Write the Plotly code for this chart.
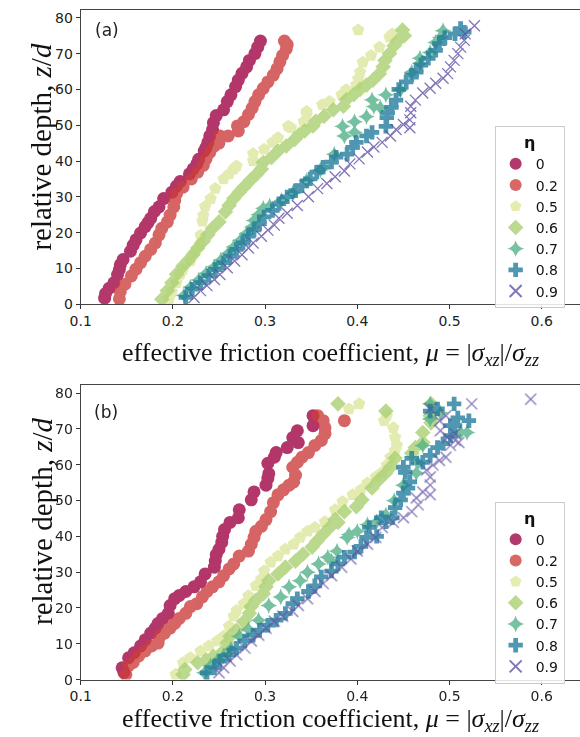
import plotly.graph_objects as go

# ---------------- data ----------------
ETA_LABELS = ["0", "0.2", "0.5", "0.6", "0.7", "0.8", "0.9"]
X_TICKS = [0.1, 0.2, 0.3, 0.4, 0.5, 0.6]
Y_TICKS = [0, 10, 20, 30, 40, 50, 60, 70, 80]

# panel (a)
MU_A_00 = [.126, .127, .131, .136, .140, .142, .143, .146, .154, .157, .160, .165, .170, .173, .176, .180, .185, .190, .199, .204, .208, .218, .222, .226, .228, .234, .236, .238, .240, .243, .244, .247, .255, .259, .263, .268, .271, .275, .280, .283, .289, .292, .295]
Z_A_00 = [1.7, 3.0, 4.5, 6.0, 8.3, 9.7, 11.0, 12.5, 14.8, 16.5, 18.0, 19.9, 21.7, 22.8, 24.0, 25.9, 27.2, 29.5, 31.3, 33.0, 34.3, 36.4, 37.8, 39.2, 40.5, 42.8, 43.8, 45.2, 47.0, 48.8, 50.7, 52.7, 54.3, 56.6, 58.5, 60.8, 62.6, 64.5, 66.3, 68.1, 70.0, 71.8, 73.5]

MU_A_02 = [.142, .143, .148, .155, .160, .165, .170, .176, .181, .185, .188, .194, .197, .201, .202, .204, .211, .220, .227, .233, .236, .240, .245, .250, .251, .260, .271, .270, .277, .282, .286, .289, .293, .298, .303, .309, .313, .316, .319, .323, .324, .321]
Z_A_02 = [1.5, 3.5, 5.6, 7.9, 9.8, 11.6, 13.4, 15.3, 17.1, 19.4, 21.2, 23.0, 24.9, 27.2, 29.0, 30.9, 32.7, 35.0, 36.9, 38.8, 40.6, 42.4, 44.2, 45.0, 47.0, 47.0, 48.4, 49.8, 51.0, 53.0, 54.8, 56.6, 58.5, 60.3, 62.1, 64.0, 65.8, 67.7, 69.5, 71.3, 72.5, 73.5]

MU_A_05 = [.196, .199, .204, .208, .211, .219, .223, .229, .230, .232, .233, .235, .241, .246, .255, .261, .266, .269, .287, .287, .299, .308, .314, .325, .328, .342, .345, .345, .362, .370, .383, .388, .399, .401, .403, .406, .415, .424, .435, .438, .401]
Z_A_05 = [1.5, 3.5, 6.0, 8.4, 9.7, 12.1, 14.3, 16.6, 19.3, 23.2, 24.8, 27.3, 29.5, 32.3, 35.0, 36.4, 37.8, 38.6, 40.0, 42.0, 43.3, 45.2, 46.5, 49.7, 49.3, 51.0, 53.0, 53.8, 55.7, 56.6, 58.5, 59.9, 61.2, 63.0, 64.8, 67.6, 69.5, 71.8, 74.6, 75.5, 76.6]

MU_A_06 = [.188, .194, .199, .204, .211, .216, .222, .227, .233, .238, .243, .250, .257, .261, .266, .272, .277, .284, .291, .296, .298, .307, .314, .323, .332, .337, .343, .352, .355, .364, .374, .385, .388, .396, .403, .410, .417, .424, .428, .430, .435, .440, .444, .451, .449]
Z_A_06 = [1.4, 3.8, 6.0, 8.4, 10.7, 12.1, 13.9, 15.7, 17.6, 19.4, 21.2, 23.0, 25.8, 27.6, 29.5, 31.3, 32.7, 34.6, 36.4, 37.8, 39.6, 41.0, 42.8, 44.2, 46.0, 47.4, 48.4, 49.8, 51.1, 52.5, 54.3, 55.3, 57.1, 58.5, 60.0, 61.2, 62.6, 64.4, 66.3, 68.1, 70.0, 72.2, 73.6, 75.0, 76.6]

MU_A_07 = [.212, .219, .228, .236, .245, .252, .260, .266, .273, .280, .286, .288, .293, .298, .305, .318, .330, .345, .360, .375, .386, .397, .384, .397, .410, .425, .418, .416, .431, .447, .459, .468, .468, .479, .485, .490, .493]
Z_A_07 = [2.5, 4.8, 6.8, 8.6, 10.5, 12.3, 14.2, 16.0, 17.8, 19.8, 21.6, 23.4, 25.0, 26.8, 27.5, 29.0, 31.0, 34.5, 37.5, 41.9, 47.0, 48.0, 49.7, 51.0, 52.4, 54.9, 55.2, 57.1, 58.5, 59.9, 64.8, 67.3, 68.7, 70.3, 73.1, 74.5, 76.4]

MU_A_08 = [.214, .221, .230, .239, .246, .255, .262, .269, .276, .282, .288, .294, .299, .308, .315, .324, .333, .340, .349, .356, .363, .372, .377, .389, .395, .399, .410, .416, .431, .432, .433, .437, .442, .445, .453, .459, .464, .469, .477, .485, .489, .495, .506, .512, .516]
Z_A_08 = [1.9, 4.2, 6.0, 8.0, 9.7, 11.6, 13.4, 15.3, 17.1, 19.0, 20.8, 22.5, 24.4, 26.2, 28.1, 30.0, 31.7, 33.1, 35.0, 36.9, 38.3, 39.7, 41.1, 41.9, 43.8, 45.2, 47.0, 48.0, 49.7, 52.1, 53.5, 55.0, 57.0, 60.0, 62.1, 64.0, 64.8, 66.8, 68.7, 70.9, 72.8, 74.5, 75.5, 77.0, 76.0]

MU_A_09 = [.223, .230, .237, .245, .251, .259, .267, .275, .282, .287, .296, .303, .310, .315, .324, .335, .347, .357, .367, .376, .386, .392, .402, .411, .418, .427, .436, .442, .450, .457, .457, .458, .458, .463, .471, .479, .485, .493, .498, .501, .505, .509, .512, .516, .517, .527]
Z_A_09 = [1.9, 3.8, 5.2, 6.9, 8.3, 10.2, 12.1, 13.8, 15.7, 17.1, 19.0, 20.7, 22.1, 24.0, 25.4, 27.6, 30.0, 32.3, 33.7, 35.6, 37.2, 39.2, 40.6, 42.5, 43.9, 45.2, 47.0, 48.8, 50.2, 49.3, 51.5, 53.5, 55.3, 57.0, 59.0, 60.3, 61.7, 63.1, 64.4, 66.3, 68.1, 70.0, 71.8, 73.7, 75.5, 77.8]

# panel (b)
MU_B_00 = [.145, .147, .152, .158, .165, .170, .176, .181, .184, .189, .195, .197, .202, .207, .214, .223, .230, .235, .245, .246, .247, .250, .253, .254, .256, .262, .271, .272, .285, .288, .301, .303, .304, .303, .310, .312, .324, .336, .330, .335, .352, .352]
Z_B_00 = [3.3, 2.0, 6.1, 7.5, 9.4, 11.1, 13.0, 14.4, 15.7, 17.1, 18.5, 20.7, 22.6, 23.5, 24.6, 25.9, 27.3, 29.5, 31.4, 33.1, 34.9, 36.4, 38.3, 40.0, 41.9, 43.9, 45.2, 47.4, 50.2, 52.4, 54.3, 56.2, 57.5, 60.4, 62.1, 63.4, 64.8, 66.2, 67.6, 69.5, 70.9, 73.7]

MU_B_02 = [.149, .152, .157, .163, .170, .177, .184, .186, .191, .197, .202, .207, .214, .219, .226, .232, .237, .243, .250, .255, .261, .266, .272, .282, .285, .288, .290, .296, .301, .306, .309, .314, .320, .326, .331, .333, .330, .335, .340, .347, .354, .361, .365, .365, .363, .357, .386]
Z_B_02 = [1.4, 3.9, 4.8, 6.6, 8.0, 9.4, 10.2, 12.1, 13.0, 14.4, 15.7, 17.1, 18.5, 20.4, 21.2, 23.1, 24.6, 25.9, 27.3, 29.0, 30.9, 32.3, 34.5, 35.9, 37.8, 39.7, 41.4, 42.8, 44.7, 46.9, 49.4, 51.6, 53.0, 54.3, 55.2, 57.1, 59.3, 60.7, 62.1, 63.4, 65.4, 66.8, 68.7, 70.3, 72.3, 73.7, 72.3]

MU_B_05 = [.203, .211, .219, .230, .239, .248, .255, .261, .266, .269, .277, .282, .290, .296, .299, .306, .314, .322, .331, .338, .346, .354, .365, .376, .384, .395, .404, .411, .420, .427, .432, .436, .441, .443, .441, .439, .429, .432, .391, .402]
Z_B_05 = [1.4, 4.7, 6.1, 8.0, 9.4, 10.8, 12.1, 14.9, 17.7, 19.3, 21.2, 23.4, 26.2, 28.1, 30.3, 32.8, 34.5, 36.4, 37.8, 39.7, 41.4, 42.5, 44.1, 47.4, 49.7, 51.6, 53.0, 54.9, 56.6, 57.9, 59.9, 62.1, 64.0, 65.4, 67.6, 70.3, 72.3, 73.7, 75.6, 77.0]

MU_B_06 = [.211, .213, .227, .236, .244, .253, .259, .262, .269, .277, .283, .285, .290, .298, .301, .304, .314, .322, .333, .341, .351, .356, .363, .370, .376, .379, .386, .399, .405, .416, .423, .431, .436, .441, .459, .463, .471, .471, .480, .479, .480, .431, .379]
Z_B_06 = [1.4, 2.8, 4.7, 5.5, 6.5, 7.5, 10.2, 12.1, 13.8, 16.2, 18.5, 20.4, 22.1, 24.0, 25.9, 27.6, 29.5, 31.4, 33.1, 35.0, 37.0, 38.6, 40.6, 42.5, 44.7, 43.9, 46.9, 48.3, 50.2, 53.5, 55.7, 57.7, 59.3, 61.8, 63.2, 64.8, 66.2, 69.0, 71.7, 73.7, 77.0, 75.0, 77.0]

MU_B_07 = [.234, .241, .248, .255, .263, .272, .282, .293, .304, .317, .326, .338, .346, .358, .368, .372, .378, .389, .391, .400, .411, .421, .431, .440, .450, .464, .466, .471, .479, .490, .479, .512, .519]
Z_B_07 = [1.9, 3.9, 5.2, 6.6, 8.5, 12.1, 14.0, 16.6, 20.7, 23.1, 25.9, 27.6, 30.0, 32.3, 34.2, 33.1, 35.9, 39.7, 40.5, 41.4, 43.3, 44.1, 46.0, 50.0, 54.3, 57.7, 60.5, 65.4, 72.8, 74.5, 77.0, 69.0, 69.0]

MU_B_08 = [.237, .245, .251, .261, .269, .278, .287, .294, .303, .312, .322, .330, .335, .347, .354, .361, .372, .379, .386, .397, .404, .410, .413, .421, .426, .431, .438, .441, .447, .450, .455, .457, .452, .450, .459, .471, .479, .487, .493, .501, .501, .506, .509, .521, .505, .479, .487]
Z_B_08 = [1.9, 3.3, 5.2, 6.9, 8.8, 10.8, 12.4, 13.8, 15.2, 16.6, 18.5, 21.2, 22.6, 24.6, 26.2, 28.7, 30.3, 32.3, 34.2, 35.6, 37.2, 39.7, 42.5, 40.0, 45.2, 44.1, 45.2, 48.0, 50.2, 52.1, 53.5, 55.2, 57.9, 59.3, 61.8, 60.7, 62.6, 64.8, 65.9, 68.1, 70.9, 70.9, 73.1, 72.3, 77.0, 75.0, 75.6]

MU_B_09 = [.250, .255, .262, .269, .278, .285, .293, .301, .310, .319, .330, .336, .346, .354, .363, .372, .383, .393, .400, .411, .420, .427, .439, .450, .459, .466, .464, .471, .479, .479, .479, .475, .482, .489, .496, .501, .506, .506, .510, .498, .490, .489, .496, .479, .524, .588]
Z_B_09 = [1.9, 3.3, 5.2, 6.9, 8.8, 10.8, 12.4, 14.3, 16.3, 17.7, 19.0, 20.7, 22.6, 24.6, 26.8, 29.0, 31.4, 33.7, 35.9, 37.8, 39.7, 42.5, 43.9, 45.2, 46.9, 48.8, 50.7, 52.4, 51.6, 54.3, 56.6, 58.5, 59.9, 61.2, 62.1, 65.4, 66.8, 68.7, 66.2, 67.6, 69.5, 72.3, 73.7, 75.6, 77.0, 78.3]

# ---------------- styling ----------------
COLORS = ["#9e0142", "#cc3d3a", "#dce69a", "#a8cf70", "#52b088", "#1f7a9c", "#5e4fa2"]
SYMBOLS = ["circle", "circle", "pentagon", "diamond", "star-diamond", "cross", "x-thin"]
SIZES = [13, 13, 13, 12, 12, 12, 11]

PANEL_A = [(MU_A_00, Z_A_00), (MU_A_02, Z_A_02), (MU_A_05, Z_A_05), (MU_A_06, Z_A_06),
           (MU_A_07, Z_A_07), (MU_A_08, Z_A_08), (MU_A_09, Z_A_09)]
PANEL_B = [(MU_B_00, Z_B_00), (MU_B_02, Z_B_02), (MU_B_05, Z_B_05), (MU_B_06, Z_B_06),
           (MU_B_07, Z_B_07), (MU_B_08, Z_B_08), (MU_B_09, Z_B_09)]

W, H = 580, 737
fig = go.Figure()


def marker_for(i):
    if SYMBOLS[i] == "x-thin":
        return dict(symbol="x-thin", size=SIZES[i], color=COLORS[i],
                    line=dict(width=1.3, color=COLORS[i]))
    return dict(symbol=SYMBOLS[i], size=SIZES[i], color=COLORS[i], line=dict(width=0))


for panel, (xa, ya, leg) in zip([PANEL_A, PANEL_B], [("x", "y", "legend"), ("x2", "y2", "legend2")]):
    for i, (mu, z) in enumerate(panel):
        fig.add_trace(go.Scatter(
            x=mu, y=z, mode="markers", name=ETA_LABELS[i],
            xaxis=xa, yaxis=ya, legend=leg,
            marker=marker_for(i), opacity=0.78, cliponaxis=True,
        ))

X_RANGE = [0.1, 0.6415]
axis_common = dict(
    showgrid=False, zeroline=False, showline=True, linecolor="#444", linewidth=1,
    ticks="outside", ticklen=4, tickwidth=1, tickcolor="#333",
    tickfont=dict(family="DejaVu Sans", size=14, color="#222"),
)

xdom = [71 / W, 1.0]
fig.update_layout(
    width=W, height=H,
    margin=dict(l=0, r=0, t=0, b=0),
    paper_bgcolor="white", plot_bgcolor="white",
    xaxis=dict(domain=xdom, range=X_RANGE, tickvals=X_TICKS, ticktext=[f"{v:.1f}" for v in X_TICKS],
               anchor="y", mirror=True, **axis_common),
    yaxis=dict(domain=[1 - 307 / H, 1 - 9.5 / H], range=[0, 82.07], tickvals=Y_TICKS,
               anchor="x", **axis_common),
    xaxis2=dict(domain=xdom, range=X_RANGE, tickvals=X_TICKS, ticktext=[f"{v:.1f}" for v in X_TICKS],
                anchor="y2", mirror=True, **axis_common),
    yaxis2=dict(domain=[1 - 687 / H, 1 - 389 / H], range=[0, 82.2], tickvals=Y_TICKS,
                anchor="x2", **axis_common),
    showlegend=True,
)

legend_common = dict(
    xanchor="left", yanchor="top", bgcolor="rgba(255,255,255,0.85)",
    bordercolor="#cccccc", borderwidth=1,
    font=dict(family="DejaVu Sans", size=14, color="#111"),
    title=dict(text="<b>η</b>", side="top center", font=dict(family="DejaVu Sans", size=16, color="#111")),
    tracegroupgap=0, itemsizing="constant",
)
fig.update_layout(
    legend=dict(x=493 / W, y=1 - 127 / H, **legend_common),
    legend2=dict(x=493 / W, y=1 - 507 / H, **legend_common),
)

serif = dict(family="Liberation Serif", size=26, color="#111")
serif_y = dict(family="Liberation Serif", size=29, color="#111")
XTITLE = "effective friction coefficient, <i>μ</i> = |<i>σ</i><sub><i>xz</i></sub>|/<i>σ</i><sub><i>zz</i></sub>"
YTITLE = "relative depth, <i>z</i>/<i>d</i>"

annotations = [
    dict(text="(a)", x=98 / W, y=1 - 29 / H, font=dict(family="DejaVu Sans", size=17, color="#222")),
    dict(text="(b)", x=97 / W, y=1 - 416 / H, font=dict(family="DejaVu Sans", size=17, color="#222")),
    dict(text=XTITLE, x=326 / W, y=1 - 357 / H, font=serif),
    dict(text=XTITLE, x=326 / W, y=1 - 728 / H, font=serif),
    dict(text=YTITLE, x=31 / W, y=1 - 148 / H, textangle=-90, font=serif_y),
    dict(text=YTITLE, x=31 / W, y=1 - 527 / H, textangle=-90, font=serif_y),
]
for a in annotations:
    a.update(xref="paper", yref="paper", showarrow=False, xanchor="center", yanchor="middle")
fig.update_layout(annotations=annotations)

fig.write_html("out.html")
